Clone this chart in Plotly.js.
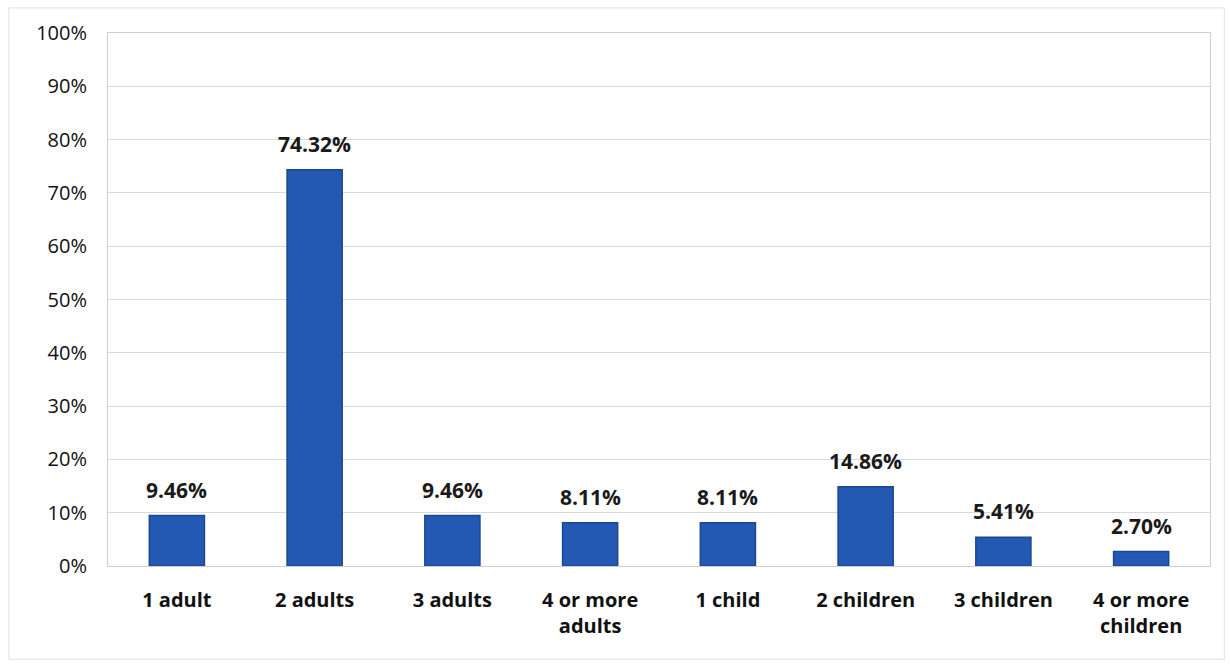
<!DOCTYPE html>
<html>
<head>
<meta charset="utf-8">
<script src="https://cdn.plot.ly/plotly-3.0.1.min.js"></script>
<style>html,body{margin:0;padding:0;background:#fff;}#chart{width:1230px;height:664px;}</style>
</head>
<body>
<div id="chart"></div>
<script>
const categories = ["1 adult", "2 adults", "3 adults", "4 or more<br>adults", "1 child", "2 children", "3 children", "4 or more<br>children"];
const values = [9.46, 74.32, 9.46, 8.11, 8.11, 14.86, 5.41, 2.70];
const yTickValues = [0, 10, 20, 30, 40, 50, 60, 70, 80, 90, 100];
const yTickLabels = ["0%", "10%", "20%", "30%", "40%", "50%", "60%", "70%", "80%", "90%", "100%"];

const trace = {
  type: "bar",
  x: categories,
  y: values,
  marker: { color: "#2459b3", line: { color: "#1b4690", width: 1.5 } },
  hoverinfo: "none"
};

const annotations = categories.map((c, i) => ({
  x: c,
  y: values[i],
  xref: "x",
  yref: "y",
  text: values[i].toFixed(2) + "%",
  showarrow: false,
  yanchor: "bottom",
  yshift: 10,
  font: { family: "Open Sans, Lato, sans-serif", size: 21, color: "#1a1a1a", weight: 700 }
}));

const layout = {
  width: 1230,
  height: 664,
  margin: { l: 108, r: 20, t: 33, b: 98 },
  paper_bgcolor: "#ffffff",
  plot_bgcolor: "#ffffff",
  bargap: 0.6,
  showlegend: false,
  font: { family: "Open Sans, Lato, sans-serif", color: "#1a1a1a" },
  xaxis: {
    type: "category",
    tickfont: { size: 20, color: "#111", weight: 700 },
    showline: true,
    linecolor: "#cfcfcf",
    linewidth: 1,
    mirror: true,
    ticks: "",
    ticklabelstandoff: 16,
    showgrid: false
  },
  yaxis: {
    range: [0, 100],
    tickvals: yTickValues,
    ticktext: yTickLabels,
    tickfont: { size: 20, color: "#111" },
    showgrid: true,
    gridcolor: "#d9d9d9",
    gridwidth: 1,
    showline: true,
    linecolor: "#cfcfcf",
    mirror: true,
    zeroline: false,
    ticks: "",
    ticklabelstandoff: 16
  },
  annotations: annotations,
  shapes: [{
    type: "rect", xref: "paper", yref: "paper",
    x0: -0.09, x1: 1.013, y0: -0.175, y1: 1.047,
    line: { color: "#e0e0e0", width: 1 }
  }]
};

Plotly.newPlot("chart", [trace], layout, { displayModeBar: false, staticPlot: true });
</script>
</body>
</html>
